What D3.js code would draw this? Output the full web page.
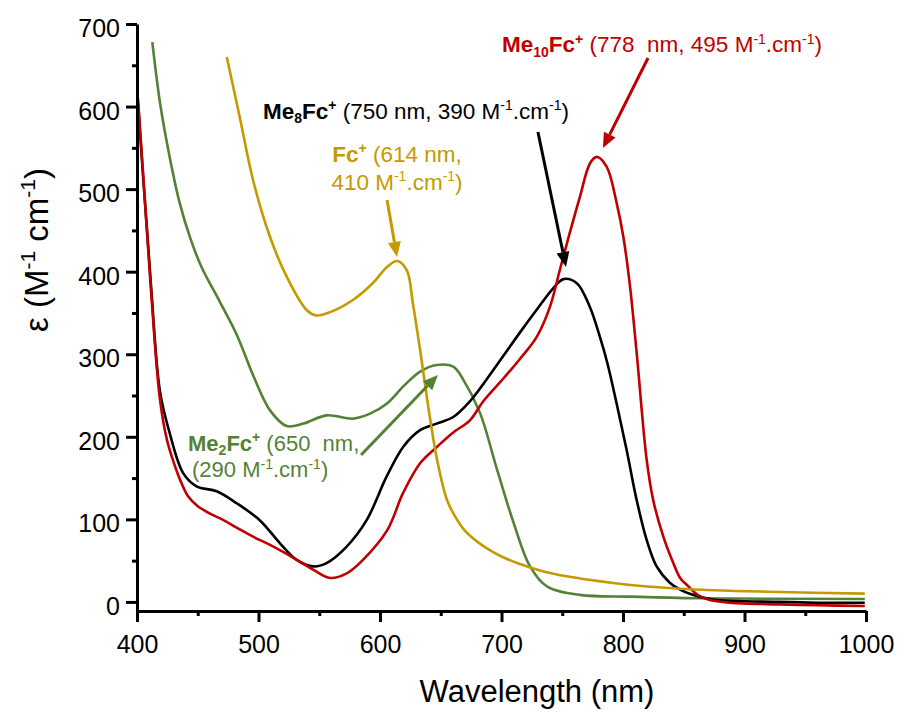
<!DOCTYPE html>
<html>
<head>
    <meta charset="utf-8">
    <title>UV-vis spectra of ferrocenium cations</title>
    <style>
        body { margin: 0; background: #fff; }
        svg { display: block; font-family: "Liberation Sans", Arial, sans-serif; }
        text { white-space: pre; }
    </style>
</head>
<body>

<main></main>

<script src="https://cdn.jsdelivr.net/npm/d3@7/dist/d3.min.js"></script>
<script>
    // data (wavelength in nm, epsilon in M-1 cm-1) =================================
    var fcNm = [473.9, 485, 495.5, 509.5, 523.5, 540, 548, 559, 578, 594, 606, 614, 622, 627, 633, 641, 647, 655, 662, 670, 680, 690, 700, 715, 737, 792, 847, 929, 999];
    var fcEps = [660, 584, 511, 442, 393, 353, 347, 351, 366, 386, 406, 413, 402, 362, 305, 224, 172, 124, 103, 86, 73, 63, 55, 46, 36, 23, 16, 12, 10];

    var me2Nm = [412.6, 419, 427, 435, 444, 453, 468, 482, 496, 509.5, 523.2, 536.9, 556, 578, 591.8, 605.5, 619.2, 633, 646.7, 660.3, 668.6, 682.3, 696, 709.7, 723.5, 737.2, 764.6, 805.8, 860.7, 999];
    var me2Eps = [678, 604, 538, 484, 440, 406, 364, 324, 273, 232, 213, 216, 226, 222, 228, 240, 261, 279, 287, 285, 269, 229, 162, 97, 43, 19, 8.5, 6.4, 4.4, 3.6];

    var me8Nm = [400.8, 404.9, 410, 412.1, 418.9, 427, 438, 449, 465.6, 482, 501, 517.7, 531.4, 545, 556, 572.6, 589, 605.5, 619.2, 633, 646.7, 660.3, 674, 688, 702, 716, 730, 742, 751, 762, 772.8, 781, 787, 794.8, 803, 811.3, 819.5, 827.7, 838.7, 847, 855, 874, 929, 960, 999];
    var me8Eps = [605, 518, 415, 372, 255, 204, 156, 140, 134, 119.5, 99, 71, 51, 43, 47, 67, 99, 152, 188, 208, 216, 224, 243, 270, 299, 328, 356, 379, 391, 386, 357, 321, 290, 240, 184, 123, 75, 43, 23, 15, 10, 3, 0, -1, -1];

    var me10Nm = [400.8, 404.9, 410, 412.1, 418.9, 424.7, 430, 436, 442, 450, 460, 470, 482, 495.5, 509.5, 528, 545, 559, 573, 586, 606, 619, 633, 647, 660, 674, 685, 700, 715, 729, 740, 748, 756, 764.6, 772.8, 778.3, 786.6, 794.8, 800.3, 805.8, 811.3, 819.5, 824.9, 833.2, 841.4, 847, 853, 861, 870, 888, 929, 960, 999];
    var me10Eps = [610, 521, 410, 366, 245, 196, 170, 146, 128, 116, 107, 100, 90, 79, 69, 54, 39, 29, 35, 51, 87, 132, 168, 188, 205, 220, 243, 268, 294, 321, 358, 402, 446, 491, 531, 539, 527, 483, 442, 382, 301, 172, 123, 79, 47, 29, 20, 9, 3, -1, -3, -4, -5];

    var xTicks = [400, 500, 600, 700, 800, 900, 1000];
    var yTicks = [0, 100, 200, 300, 400, 500, 600, 700];

    // 颜色
    var RED = "#C00000", BLACK = "#000000", GREEN = "#548235", GOLD = "#C49A00";

    // draw order: green, black, red, gold
    var series = [
        {nm: me2Nm, eps: me2Eps, color: GREEN},
        {nm: me8Nm, eps: me8Eps, color: BLACK},
        {nm: me10Nm, eps: me10Eps, color: RED},
        {nm: fcNm, eps: fcEps, color: GOLD}
    ];

    // 设定参数 ============================
    var width = 907;
    var height = 715;

    var x = d3.scaleLinear().domain([400, 1000]).range([137, 866]);
    var y = d3.scaleLinear().domain([-11, 700]).range([611, 24]);

    var svg = d3.select("main")
        .append("svg")
        .attr("width", width)
        .attr("height", height);

    svg.append("rect").attr("width", width).attr("height", height).attr("fill", "#fff");

    // 曲线 ============================
    var line = d3.line()
        .x(function (d) { return x(d[0]); })
        .y(function (d) { return y(d[1]); })
        .curve(d3.curveCatmullRom.alpha(0.5));

    series.forEach(function (s) {
        var pts = s.nm.map(function (v, i) { return [v, s.eps[i]]; });
        svg.append("path")
            .datum(pts)
            .attr("d", line)
            .attr("fill", "none")
            .attr("stroke", s.color)
            .attr("stroke-width", 2.6)
            .attr("stroke-linejoin", "round");
    });

    // 坐标轴 ============================
    function styleAxis(g) {
        g.select(".domain").attr("stroke-width", 3);
        g.selectAll(".tick line").attr("stroke-width", 3);
        g.selectAll(".tick text").attr("font-family", null).style("font-size", "25px").attr("fill", "#000");
    }

    var xAxis = svg.append("g")
        .attr("transform", "translate(0," + y.range()[0] + ")")
        .call(d3.axisBottom(x).tickValues(xTicks).tickSize(11).tickSizeOuter(0).tickPadding(13).tickFormat(d3.format("d")));
    styleAxis(xAxis);

    svg.append("g")
        .attr("transform", "translate(0," + y.range()[0] + ")")
        .call(d3.axisBottom(x).tickValues(d3.range(450, 1000, 100)).tickSize(5).tickFormat(""))
        .call(function (g) { g.select(".domain").remove(); g.selectAll("line").attr("stroke-width", 3); });

    var yAxis = svg.append("g")
        .attr("transform", "translate(" + x.range()[0] + ",0)")
        .call(d3.axisLeft(y).tickValues(yTicks).tickSize(11).tickSizeOuter(0).tickPadding(6).tickFormat(d3.format("d")));
    styleAxis(yAxis);
    yAxis.selectAll(".tick text").attr("dy", "0.5em");

    svg.append("g")
        .attr("transform", "translate(" + x.range()[0] + ",0)")
        .call(d3.axisLeft(y).tickValues(d3.range(50, 700, 100)).tickSize(5).tickFormat(""))
        .call(function (g) { g.select(".domain").remove(); g.selectAll("line").attr("stroke-width", 3); });

    // rich text: parts with bold / sub / sup
    function rich(text, parts, size) {
        var shift = 0;
        parts.forEach(function (p) {
            var target = p.s === "sup" ? -0.38 * size : p.s === "sub" ? 0.2 * size : 0;
            var ts = text.append("tspan").text(p.t);
            if (target - shift !== 0) ts.attr("dy", target - shift);
            if (p.b) ts.attr("font-weight", "bold");
            if (p.s) ts.style("font-size", Math.round(size * 0.64) + "px");
            shift = target;
        });
        return text;
    }

    // 轴标题
    svg.append("text")
        .attr("x", 537).attr("y", 702)
        .attr("text-anchor", "middle")
        .style("font-size", "31px")
        .text("Wavelength (nm)");

    var yTitle = svg.append("text")
        .attr("transform", "translate(48,250) rotate(-90)")
        .attr("text-anchor", "middle")
        .style("font-size", "33px");
    rich(yTitle, [
        {t: "ε (M"}, {t: "-1", s: "sup"}, {t: " cm"}, {t: "-1", s: "sup"}, {t: ")"}
    ], 33);

    // 注释 ============================
    function label(nm, eps, parts, color, anchor, size) {
        size = size || 22.5;
        var t = svg.append("text")
            .attr("x", x(nm)).attr("y", y(eps))
            .attr("fill", color)
            .attr("text-anchor", anchor || "start")
            .style("font-size", size + "px");
        rich(t, parts, size);
    }

    var unit = [{t: " M"}, {t: "-1", s: "sup"}, {t: ".cm"}, {t: "-1", s: "sup"}, {t: ")"}];

    label(700.4, 666, [{t: "Me", b: 1}, {t: "10", b: 1, s: "sub"}, {t: "Fc", b: 1}, {t: "+", b: 1, s: "sup"},
        {t: " (778  nm, 495"}].concat(unit), RED);
    label(503.7, 585, [{t: "Me", b: 1}, {t: "8", b: 1, s: "sub"}, {t: "Fc", b: 1}, {t: "+", b: 1, s: "sup"},
        {t: " (750 nm, 390"}].concat(unit), BLACK);
    label(614, 533, [{t: "Fc", b: 1}, {t: "+", b: 1, s: "sup"}, {t: " (614 nm,"}], GOLD, "middle");
    label(614, 499, [{t: "410"}].concat(unit), GOLD, "middle");
    label(442, 183, [{t: "Me", b: 1}, {t: "2", b: 1, s: "sub"}, {t: "Fc", b: 1}, {t: "+", b: 1, s: "sup"},
        {t: " (650  nm,"}], GREEN, "start", 22);
    label(445.3, 151, [{t: "(290"}].concat(unit), GREEN, "start", 22);

    // 箭头
    var arrows = [
        {from: [820.6, 658.8], to: [783.5, 549.8], color: RED},
        {from: [730, 569.2], to: [753.1, 405.7], color: BLACK},
        {from: [605.8, 486.8], to: [614, 417.8], color: GOLD},
        {from: [584.4, 178], to: [647.7, 274.9], color: GREEN}
    ];

    arrows.forEach(function (a) {
        var x0 = x(a.from[0]), y0 = y(a.from[1]);
        var x1 = x(a.to[0]), y1 = y(a.to[1]);
        var ang = Math.atan2(y1 - y0, x1 - x0);
        var len = 15, hw = 6.5;
        var bx = x1 - len * Math.cos(ang), by = y1 - len * Math.sin(ang);
        svg.append("line")
            .attr("x1", x0).attr("y1", y0)
            .attr("x2", bx).attr("y2", by)
            .attr("stroke", a.color)
            .attr("stroke-width", 3);
        svg.append("polygon")
            .attr("points", [
                [x1, y1],
                [bx + hw * Math.sin(ang), by - hw * Math.cos(ang)],
                [bx - hw * Math.sin(ang), by + hw * Math.cos(ang)]
            ].map(function (p) { return p.join(","); }).join(" "))
            .attr("fill", a.color);
    });
</script>
</body>
</html>
